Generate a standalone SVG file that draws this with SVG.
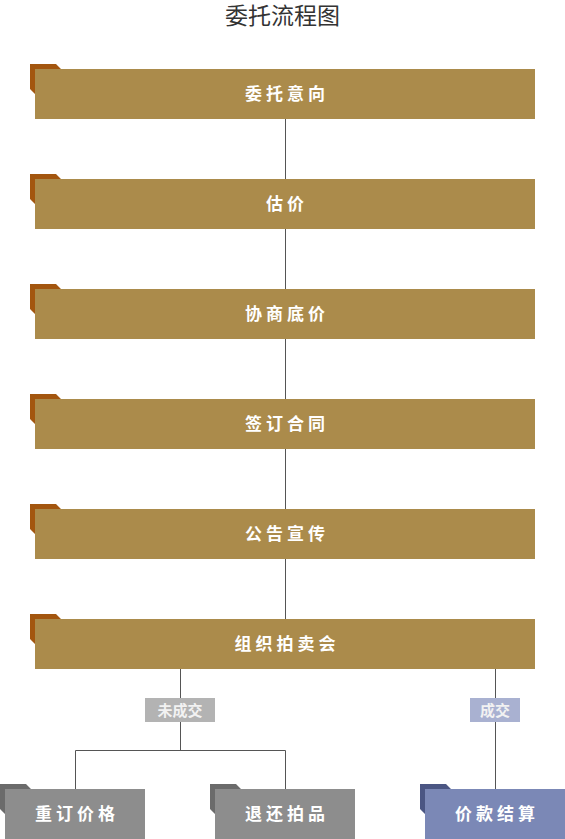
<svg xmlns="http://www.w3.org/2000/svg" width="565" height="839" viewBox="0 0 565 839">
<defs>
<style>
.title{font-family:"Noto Sans CJK SC","Noto Sans",sans-serif;font-size:23px;fill:#333;}
.t{font-family:"Noto Sans CJK SC",sans-serif;font-size:17px;font-weight:bold;fill:#fff;letter-spacing:4px;}
.lbl{font-family:"Noto Sans CJK SC",sans-serif;font-size:15px;font-weight:bold;fill:#f2f2f2;}
.main{fill:#ab8b4b;}
.deco{fill:#a3560f;}
.gbox{fill:#8d8d8d;}
.gdeco{fill:#6b6b6b;}
.bbox{fill:#7b88b6;}
.bdeco{fill:#4b5683;}
.line{stroke:#555;stroke-width:1;fill:none;}
</style>
</defs>
<text class="title" x="282.5" y="24" text-anchor="middle">委托流程图</text>
<g id="connectors">
<path class="line" d="M285.5 119V179M285.5 229V289M285.5 339V399M285.5 449V509M285.5 559V619"/>
<path class="line" d="M180.5 669V750.5M75.5 789V750.5H285.5V789"/>
<path class="line" d="M495.5 669V789"/>
</g>
<g id="n1">
<polygon class="deco" points="30,64 56,64 61,69 35,69 35,94 30,89"/>
<rect class="main" x="35" y="69" width="500" height="50"/>
<text class="t" x="287" y="100" text-anchor="middle">委托意向</text>
</g>
<g id="n2">
<polygon class="deco" points="30,174 56,174 61,179 35,179 35,204 30,199"/>
<rect class="main" x="35" y="179" width="500" height="50"/>
<text class="t" x="287" y="210" text-anchor="middle">估价</text>
</g>
<g id="n3">
<polygon class="deco" points="30,284 56,284 61,289 35,289 35,314 30,309"/>
<rect class="main" x="35" y="289" width="500" height="50"/>
<text class="t" x="287" y="320" text-anchor="middle">协商底价</text>
</g>
<g id="n4">
<polygon class="deco" points="30,394 56,394 61,399 35,399 35,424 30,419"/>
<rect class="main" x="35" y="399" width="500" height="50"/>
<text class="t" x="287" y="430" text-anchor="middle">签订合同</text>
</g>
<g id="n5">
<polygon class="deco" points="30,504 56,504 61,509 35,509 35,534 30,529"/>
<rect class="main" x="35" y="509" width="500" height="50"/>
<text class="t" x="287" y="540" text-anchor="middle">公告宣传</text>
</g>
<g id="n6">
<polygon class="deco" points="30,614 56,614 61,619 35,619 35,644 30,639"/>
<rect class="main" x="35" y="619" width="500" height="50"/>
<text class="t" x="287" y="650" text-anchor="middle">组织拍卖会</text>
</g>
<g id="lbl-fail">
<rect x="145" y="698" width="70" height="24" fill="#b3b3b3"/>
<text class="lbl" x="180" y="715.5" text-anchor="middle">未成交</text>
</g>
<g id="lbl-ok">
<rect x="470" y="698" width="50" height="24" fill="#a9b1d1"/>
<text class="lbl" x="495" y="715.5" text-anchor="middle">成交</text>
</g>
<g id="n7">
<polygon class="gdeco" points="0,784 26,784 31,789 5,789 5,814 0,809"/>
<rect class="gbox" x="5" y="789" width="140" height="50"/>
<text class="t" x="77" y="820" text-anchor="middle">重订价格</text>
</g>
<g id="n8">
<polygon class="gdeco" points="210,784 236,784 241,789 215,789 215,814 210,809"/>
<rect class="gbox" x="215" y="789" width="140" height="50"/>
<text class="t" x="287" y="820" text-anchor="middle">退还拍品</text>
</g>
<g id="n9">
<polygon class="bdeco" points="420,784 446,784 451,789 425,789 425,814 420,809"/>
<rect class="bbox" x="425" y="789" width="140" height="50"/>
<text class="t" x="497" y="820" text-anchor="middle">价款结算</text>
</g>
</svg>
